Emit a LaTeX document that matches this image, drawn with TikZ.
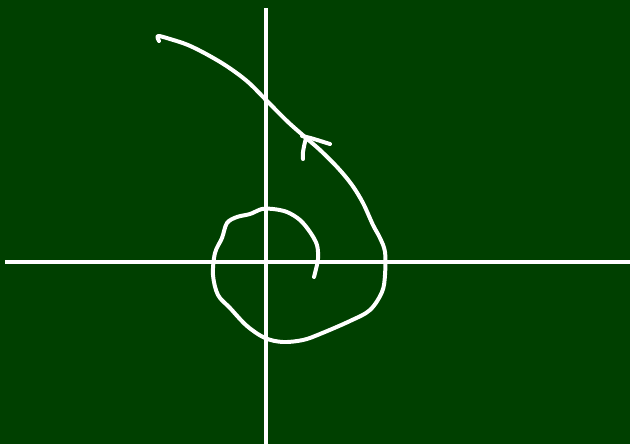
\documentclass[tikz,border=0pt]{standalone}
\definecolor{board}{RGB}{0,64,0}
\begin{document}
\begin{tikzpicture}[x=0.03cm,y=-0.03cm,
  axis/.style={white,line width=2.6pt},
  chalk/.style={white,line width=3.4pt,line cap=round,line join=round}]
\fill[board] (0,0) rectangle (630,444);
\useasboundingbox (0,0) rectangle (630,444);
\coordinate (xl) at (5,262);
\coordinate (xr) at (630,262);
\coordinate (yt) at (266,8);
\coordinate (yb) at (266,444);
\draw[axis] (xl) -- (xr);
\draw[axis] (yt) -- (yb);
\draw[chalk] plot[smooth,tension=0.55] coordinates {
 (314,277) (316,269) (318,259) (317,245) (310,232) (300,220) (287,212)
 (273,209) (262,209) (250,214) (237,217) (227,223) (222,238) (215,253)
 (213,275) (218,295) (230,308) (247,326) (265,338) (283,342) (303,340)
 (320,334) (350,321) (370,310) (382,292) (385,275) (385,252) (380,238)
 (373,225) (363,203) (352,185) (338,168) (320,150) (305,137) (288,122)
 (268,102) (248,82) (228,67) (208,55) (188,45) (170,39) (158,36) (159,41)};
\draw[chalk] (302,136) .. controls (312,138) and (320,141) .. (330,144);
\draw[chalk] (306,138) .. controls (304,146) and (302,154) .. (303,159);
\end{tikzpicture}
\end{document}
